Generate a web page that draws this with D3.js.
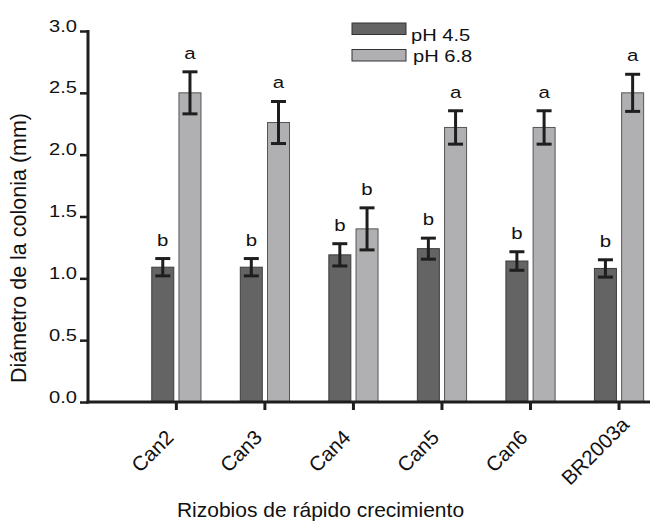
<!DOCTYPE html>
<html>
<head>
<meta charset="utf-8">
<script src="https://cdn.jsdelivr.net/npm/d3@7"></script>
<style>
  html, body { margin: 0; padding: 0; background: #fff; }
  svg { display: block; font-family: "Liberation Sans", Arial, Helvetica, sans-serif; }
</style>
</head>
<body>
<svg id="chart" width="650" height="523"></svg>
<script>
const categories = ["Can2", "Can3", "Can4", "Can5", "Can6", "BR2003a"];
const ph45 = [1.09, 1.09, 1.19, 1.24, 1.14, 1.08];
const ph45Err = [0.07, 0.07, 0.09, 0.085, 0.075, 0.07];
const ph68 = [2.50, 2.26, 1.40, 2.22, 2.22, 2.50];
const ph68Err = [0.17, 0.17, 0.17, 0.135, 0.135, 0.15];
const letters45 = ["b", "b", "b", "b", "b", "b"];
const letters68 = ["a", "a", "b", "a", "a", "a"];
const yTicks = [0, 0.5, 1.0, 1.5, 2.0, 2.5, 3.0];
const seriesNames = ["pH 4.5", "pH 6.8"];

const svg = d3.select("#chart");
const colors = { dark: "#646464", light: "#b0b0b3" };
const ink = "#1e1e1e";
const stretch = 1.22;

const x = d3.scaleBand().domain(categories).range([132.1, 663.3]).padding(0);
const y = d3.scaleLinear().domain([0, 3]).range([402, 31]);
const cx = c => x(c) + x.bandwidth() / 2;
const barW = 22, gap = 2.6;

const series = [
  { name: seriesNames[0], vals: ph45, errs: ph45Err, letters: letters45, fill: colors.dark, stroke: "#3c3c3c", off: -gap - barW },
  { name: seriesNames[1], vals: ph68, errs: ph68Err, letters: letters68, fill: colors.light, stroke: "#555", off: gap }
];

// bars
series.forEach(s => {
  const g = svg.append("g");
  const data = categories.map((c, i) => ({ c, v: s.vals[i], e: s.errs[i], l: s.letters[i] }));
  g.selectAll("rect").data(data).join("rect")
    .attr("x", d => cx(d.c) + s.off)
    .attr("y", d => y(d.v))
    .attr("width", barW)
    .attr("height", d => y(0) - y(d.v))
    .attr("fill", s.fill)
    .attr("stroke", s.stroke)
    .attr("stroke-width", 1);
  // error bars
  const eb = g.selectAll("g.err").data(data).join("g").attr("class", "err")
    .attr("stroke", ink).attr("stroke-width", 3);
  const mid = d => cx(d.c) + s.off + barW / 2;
  eb.append("line").attr("x1", mid).attr("x2", mid)
    .attr("y1", d => y(d.v + d.e)).attr("y2", d => y(d.v - d.e));
  eb.append("line").attr("x1", d => mid(d) - 7.5).attr("x2", d => mid(d) + 7.5)
    .attr("y1", d => y(d.v + d.e)).attr("y2", d => y(d.v + d.e));
  eb.append("line").attr("x1", d => mid(d) - 7.5).attr("x2", d => mid(d) + 7.5)
    .attr("y1", d => y(d.v - d.e)).attr("y2", d => y(d.v - d.e));
  // letters
  g.selectAll("text.letter").data(data).join("text").attr("class", "letter")
    .attr("transform", d => `translate(${mid(d)},${y(d.v + d.e) - 13}) scale(1.2,1)`)
    .attr("text-anchor", "middle")
    .attr("font-size", 17)
    .attr("fill", "#111")
    .text(d => d.l);
});

// y axis
const yAxis = svg.append("g").attr("transform", "translate(88,0)")
  .call(d3.axisLeft(y).tickValues(yTicks).tickFormat(d3.format(".1f")).tickSize(8).tickSizeOuter(0));
yAxis.select(".domain").attr("stroke", ink).attr("stroke-width", 3).attr("d", `M0,${y(3) - 1}V${y(0) + 1.5}`);
yAxis.selectAll(".tick line").attr("stroke", ink).attr("stroke-width", 2.5);
yAxis.selectAll(".tick text")
  .attr("font-size", 16.5).attr("fill", "#111").attr("font-family", null)
  .attr("x", -11 / stretch).attr("dy", 0)
  .attr("transform", `scale(${stretch},1)`);

// x axis
const xAxis = svg.append("g").attr("transform", `translate(0,${y(0)})`)
  .call(d3.axisBottom(x).tickSize(8).tickSizeOuter(0));
xAxis.select(".domain").attr("stroke", ink).attr("stroke-width", 3).attr("d", "M86.5,0H650");
xAxis.selectAll(".tick line").attr("stroke", ink).attr("stroke-width", 3);
xAxis.selectAll(".tick text")
  .attr("font-size", 20.5).attr("fill", "#111").attr("font-family", null)
  .attr("text-anchor", "middle")
  .attr("y", null).attr("dy", "0.35em")
  .attr("transform", "translate(-24,49) rotate(-45)");

// axis titles
svg.append("text")
  .attr("transform", "translate(25.5,248) rotate(-90)")
  .attr("text-anchor", "middle").attr("font-size", 21.5).attr("fill", "#111")
  .text("Diámetro de la colonia (mm)");
svg.append("text")
  .attr("x", 320.5).attr("y", 517)
  .attr("text-anchor", "middle").attr("font-size", 21).attr("fill", "#111")
  .text("Rizobios de rápido crecimiento");

// legend
const legend = svg.append("g");
const legY = [23, 49.5];
const legTextY = [40.5, 62];
series.forEach((s, i) => {
  legend.append("rect").attr("x", 352).attr("y", legY[i]).attr("width", 54).attr("height", 11.5)
    .attr("fill", s.fill).attr("stroke", "#333").attr("stroke-width", 1);
  legend.append("text")
    .attr("transform", `translate(${411 + i * 2},${legTextY[i]}) scale(${stretch},1)`)
    .attr("font-size", 16.5).attr("fill", "#111")
    .text(s.name);
});
</script>
</body>
</html>
